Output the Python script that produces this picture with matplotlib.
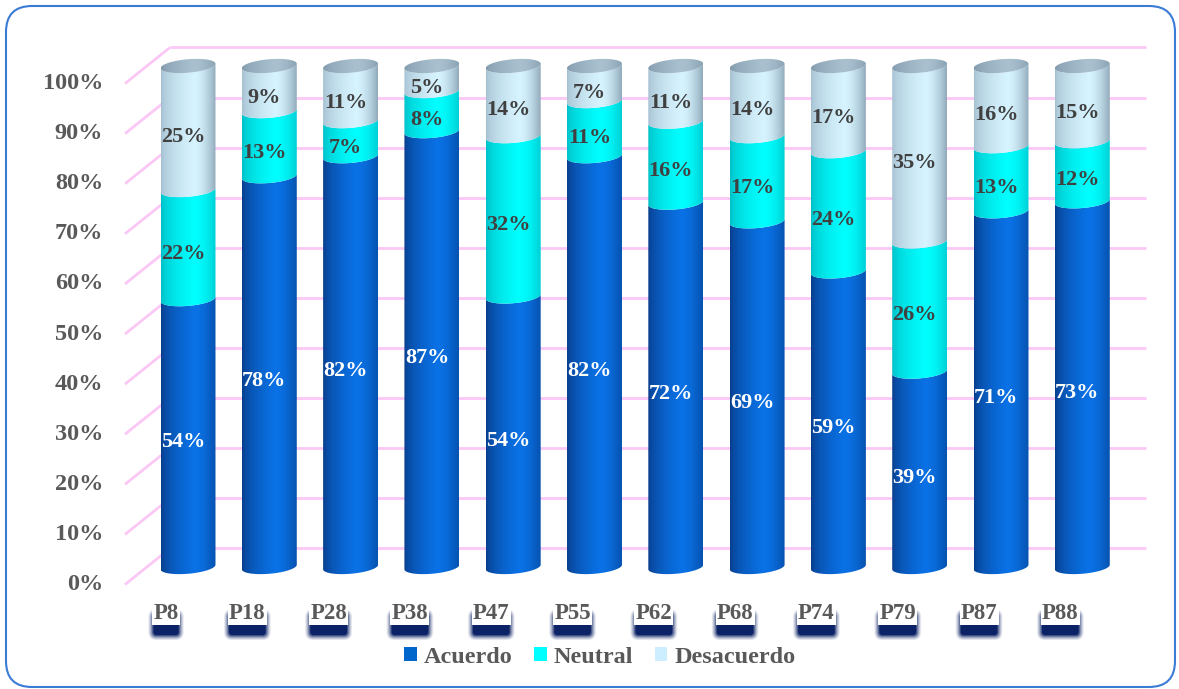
import numpy as np
import matplotlib
matplotlib.use("Agg")
import matplotlib.pyplot as plt
from matplotlib.patches import Polygon, Patch, FancyBboxPatch
from matplotlib.transforms import IdentityTransform

# ---- data -------------------------------------------------------------
categories = ["P8", "P18", "P28", "P38", "P47", "P55",
              "P62", "P68", "P74", "P79", "P87", "P88"]
acuerdo = [54, 78, 82, 87, 54, 82, 72, 69, 59, 39, 71, 73]
neutral = [22, 13, 7, 8, 32, 11, 16, 17, 24, 26, 13, 12]
desacuerdo = [25, 9, 11, 5, 14, 7, 11, 14, 17, 35, 16, 15]
series_names = ["Acuerdo", "Neutral", "Desacuerdo"]
y_ticks = [0, 10, 20, 30, 40, 50, 60, 70, 80, 90, 100]

# ---- style ------------------------------------------------------------
SERIF = ["Liberation Serif", "DejaVu Serif"]
GRAY_TXT = "#595959"
DARK_TXT = "#404040"
GRID = "#FBC8F6"
legend_colors = ["#0066CC", "#00FFFF", "#CCEEFF"]
# (left edge, highlight, right edge) for the cylinder shading of each series
shades = [
    ("#083A86", "#0A72E6", "#0652AE"),
    ("#00BCC4", "#00FFFF", "#00D0D6"),
    ("#A3BDCE", "#D6F4FF", "#92ABBC"),
]
cap_shade = ("#7E97A9", "#A9C0CF", "#8AA2B3")
label_colors = ["white", DARK_TXT, DARK_TXT]

W, H = 1179, 689
fig = plt.figure(figsize=(W / 100, H / 100), dpi=100)
ax = fig.add_axes([0, 0, 1, 1])
ax.set_axis_off()

# data space: categories on x, percent on y
x0_px, dx_px = 188.0, 81.3
y0_px, dy_px = 567.0, 5.01
ax.set_xlim(-x0_px / dx_px, (W - x0_px) / dx_px)
ax.set_ylim(-(H - y0_px) / dy_px, y0_px / dy_px)

BACK, FRONT = 3.7, -3.5          # depth offsets of the walls (percent units)
BACK_X, FRONT_X = -0.221, -0.775
RIGHT_X = (1146 - x0_px) / dx_px

# gridlines on the back wall plus the slanted side lines
for t in y_ticks:
    ax.plot([BACK_X, RIGHT_X], [t + BACK, t + BACK], color=GRID, lw=2, zorder=1,
            solid_capstyle="butt")
    ax.plot([FRONT_X, BACK_X], [t + FRONT, t + BACK], color=GRID, lw=2, zorder=1,
            solid_capstyle="butt")
    ax.text(FRONT_X - 0.27, t + FRONT, f"{t}%", ha="right", va="center",
            fontsize=17.5, fontweight="bold", family=SERIF, color=GRAY_TXT)


def hex2rgb(c):
    return np.array(matplotlib.colors.to_rgb(c))


def gradient(shade, n=120):
    e, hl, r = (hex2rgb(c) for c in shade)
    t = np.linspace(0, 1, n)
    img = np.zeros((1, n, 3))
    peak = 0.6
    for i, v in enumerate(t):
        if v < peak:
            a = (v / peak) ** 0.55
            img[0, i] = e * (1 - a) + hl * a
        else:
            a = ((v - peak) / (1 - peak)) ** 1.7
            img[0, i] = hl * (1 - a) + r * a
    return img


HALF_W = 0.338
ELL_H = 1.35
TILT = 0.45
th_front = np.linspace(np.pi, 2 * np.pi, 60)
th_full = np.linspace(0, 2 * np.pi, 120)


def arc(xc, level, th):
    return np.column_stack([xc + HALF_W * np.cos(th),
                            level + ELL_H * np.sin(th) + TILT * np.cos(th)])


def shaded(poly_xy, shade, xc, ylo, yhi, z):
    poly = Polygon(poly_xy, closed=True, fc="none", ec="none")
    ax.add_patch(poly)
    im = ax.imshow(gradient(shade), extent=[xc - HALF_W, xc + HALF_W, ylo, yhi],
                   aspect="auto", interpolation="bilinear", zorder=z)
    im.set_clip_path(poly)


series = [acuerdo, neutral, desacuerdo]
for i, cat in enumerate(categories):
    vals = [s[i] for s in series]
    total = sum(vals)
    bottom = 0.0
    for k, v in enumerate(vals):
        h = 100.0 * v / total
        lo, hi = bottom, bottom + h
        lower = arc(i, lo, th_front)
        upper = arc(i, hi, th_front)[::-1]
        shaded(np.vstack([lower, upper]), shades[k], i, lo - 3, hi + 3, 3)
        ax.text(i - 0.06, (lo + hi) / 2 - 1.8, f"{v}%", ha="center", va="center",
                fontsize=16, fontweight="bold", family=SERIF,
                color=label_colors[k], zorder=6)
        bottom = hi
    # top cap
    shaded(arc(i, 100, th_full), cap_shade, i, 100 - 3, 100 + 3, 4)

# category labels on white boxes with a soft navy shadow underneath
renderer = fig.canvas.get_renderer()
for i, cat in enumerate(categories):
    txt = ax.text(i - 0.27, -9.3, cat, ha="center", va="center", fontsize=16.5,
                  fontweight="bold", family=SERIF, color=GRAY_TXT,
                  bbox=dict(boxstyle="square,pad=0.05", fc="white", ec="none"),
                  zorder=8)
    bb = txt.get_window_extent(renderer)
    sx0, sy0 = bb.x0, bb.y0 - 11
    sw, sh = bb.width, bb.height
    for d, alpha in [(5, 0.10), (4, 0.14), (3, 0.2), (2, 0.3), (1, 0.45), (0, 1.0)]:
        ax.add_patch(FancyBboxPatch((sx0 - d, sy0 - d), sw + 2 * d, sh + 2 * d,
                                    boxstyle=f"round,pad=0,rounding_size={3 + d}",
                                    transform=IdentityTransform(), fc="#0B2266",
                                    ec="none", alpha=alpha, zorder=7))

handles = [Patch(facecolor=c, edgecolor="none") for c in legend_colors]
fig.legend(handles, series_names, loc="center", bbox_to_anchor=(0.509, 0.046),
           ncol=3, frameon=False, handlelength=0.5, handleheight=0.5,
           handletextpad=0.3, columnspacing=0.9,
           prop=dict(family=SERIF, weight="bold", size=17.5), labelcolor=GRAY_TXT)

# rounded outer frame
frame = FancyBboxPatch((6, 2), 1169, 681, boxstyle="round,pad=0,rounding_size=26",
                       transform=IdentityTransform(), fc="none", ec="#3A7BD5",
                       lw=1.5)
fig.patches.append(frame)

fig.savefig("out.png", dpi=100)
